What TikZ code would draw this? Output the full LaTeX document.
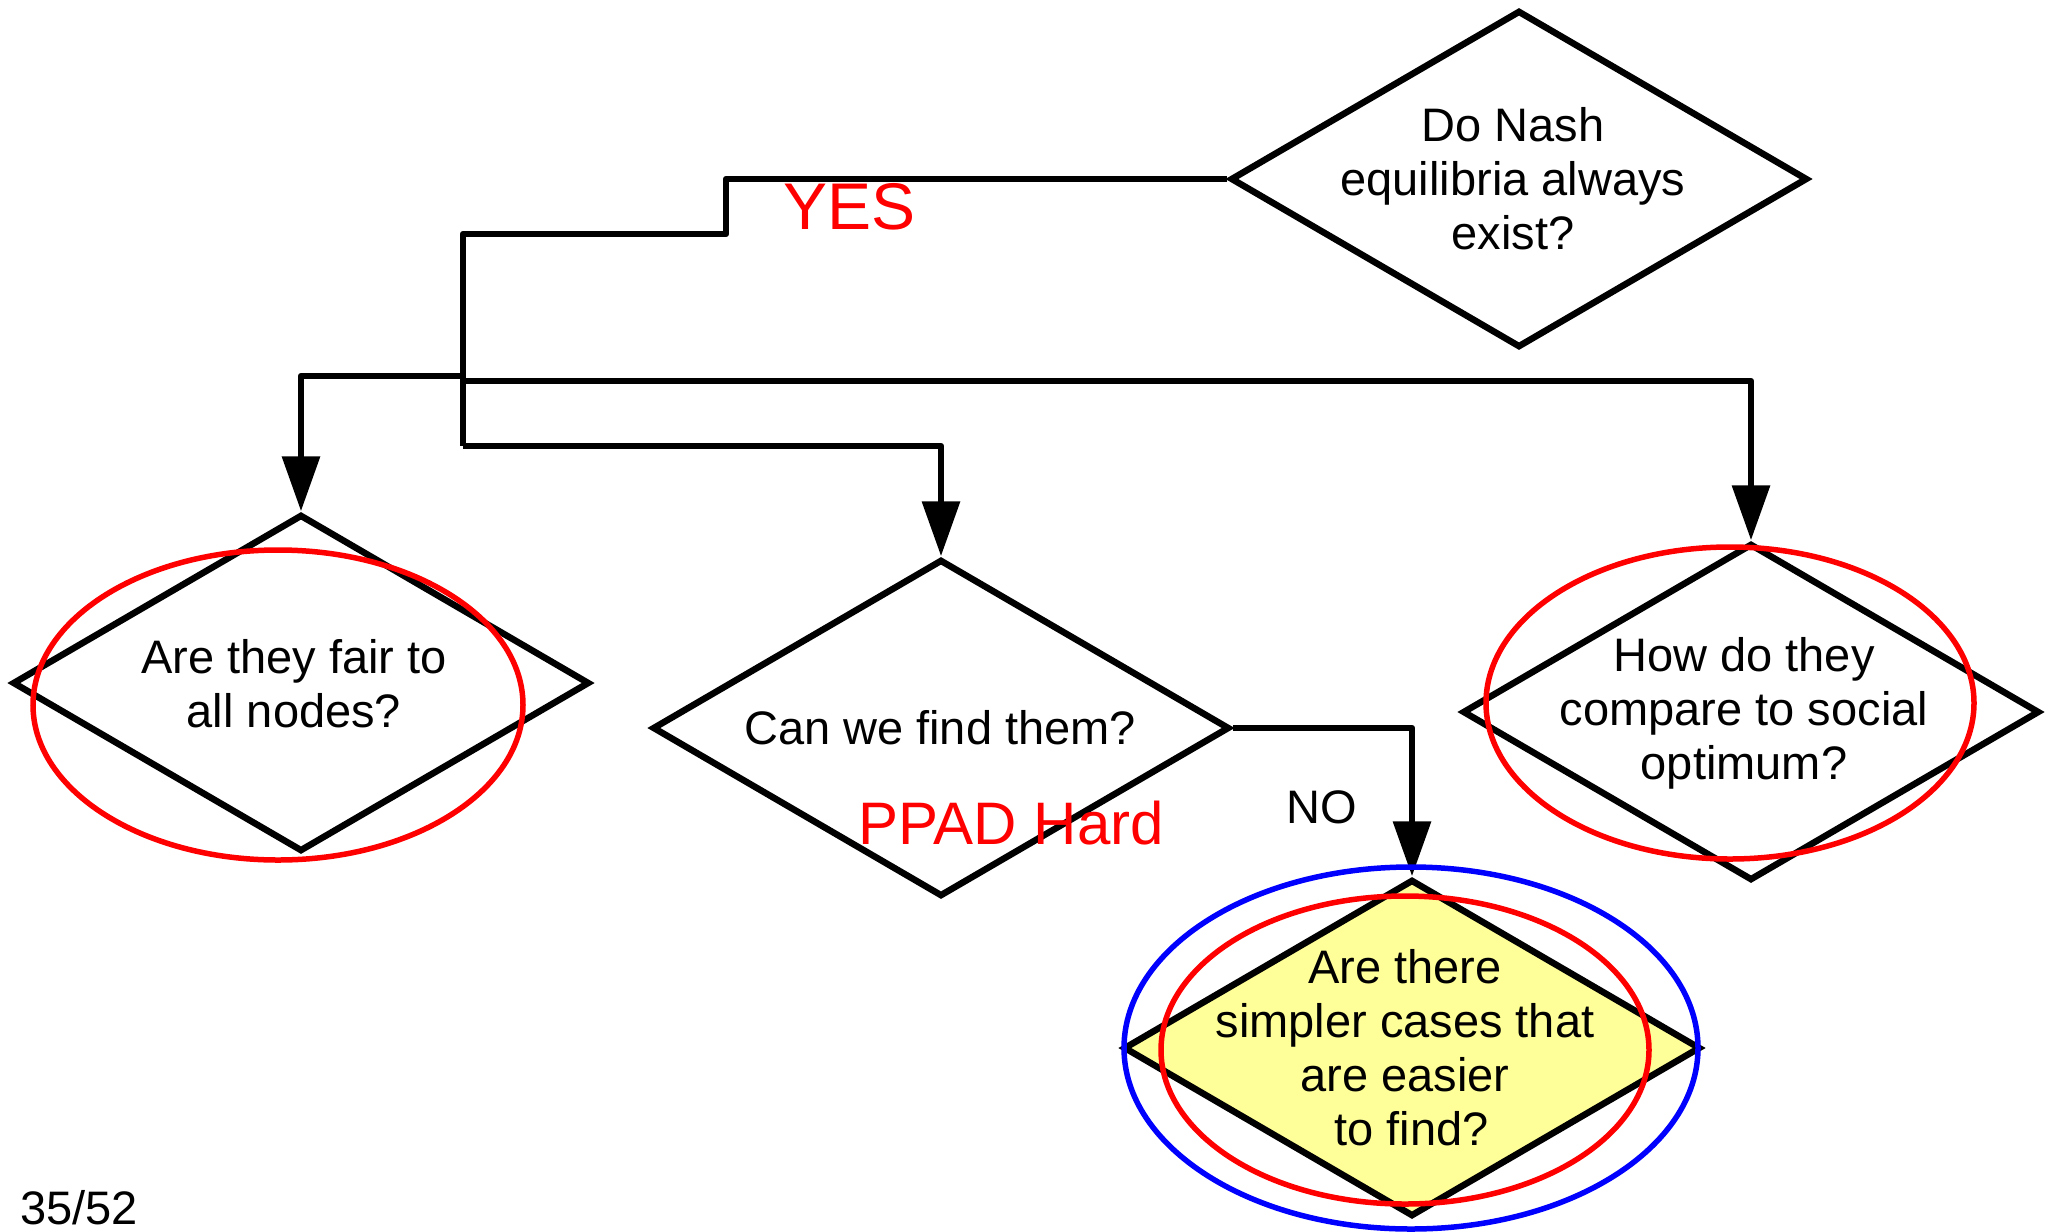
\documentclass[tikz,border=0pt]{standalone}
\usepackage{fontspec}
\setmainfont{Liberation Sans}
\usetikzlibrary{shapes.geometric,arrows.meta}
\definecolor{qyellow}{RGB}{255,255,153}
\tikzset{
  question/.style={draw=black, line width=6.5pt, diamond, inner sep=0pt,
    minimum width=577pt, minimum height=337pt},
  qtext/.style={align=center, font=\fontsize{47}{54}\selectfont, inner sep=0pt},
  link/.style={draw=black, line width=6.5pt, line join=round},
  arrowlink/.style={link, -{Triangle[length=55pt,width=37pt]}},
  answer/.style={text=red, inner sep=0pt},
  ring/.style={line width=5.5pt}
}
\begin{document}
\begin{tikzpicture}[x=1pt,y=-1pt]
\useasboundingbox (0,0) rectangle (2052,1231);

% decision diamonds
\node[question] (nash)   at (1519,179) {};
\node[question] (fair)   at (301,683) {};
\node[question] (find)   at (941,728) {};
\node[question] (social) at (1751,712) {};
\node[question, fill=qyellow] (simple) at (1412,1048) {};

% questions
\node[qtext] (tnash)   at (1513,179) {Do Nash\\equilibria always\\exist?};
\node[qtext] (tfair)   at (294,684)  {Are they fair to\\all nodes?};
\node[qtext] (tfind)   at (940,728)  {Can we find them?};
\node[qtext] (tsocial) at (1744,713) {How do they\\compare to social\\optimum?};
\node[qtext] (tsimple) at (1405,1048) {Are there\\simpler cases that\\are easier\\\ to find?};

% YES trunk
\coordinate (step) at (726,234);
\coordinate (trunk) at (463,234);
\coordinate (trunkend) at (463,446);
\coordinate (jfair) at (463,376);
\coordinate (jsocial) at (463,381);
\draw[link] (nash.west) -| (step) -- (trunk) -- (trunkend);
\draw[arrowlink] (trunkend) -| (find.north);
\draw[arrowlink] (jfair) -| (fair.north);
\draw[arrowlink] (jsocial) -| (social.north);

% NO branch
\draw[arrowlink] (find.east) -| (simple.north);

% answers
\node[answer, font=\fontsize{66}{76}\selectfont, anchor=base west] (yes) at (783,229) {YES};
\node[answer, font=\fontsize{60}{70}\selectfont, anchor=base west] (ppad) at (858,844) {PPAD Hard};
\node[qtext, anchor=base west] (no) at (1286,823) {NO};

% highlight rings
\draw[ring, red]  (278,705) ellipse [x radius=245pt, y radius=155pt];
\draw[ring, red]  (1730,703) ellipse [x radius=244pt, y radius=156pt];
\draw[ring, blue] (1411,1048) ellipse [x radius=287pt, y radius=181pt];
\draw[ring, red]  (1405,1050) ellipse [x radius=244pt, y radius=154pt];

% page number
\node[qtext, anchor=base west] (page) at (20,1224) {35/52};
\end{tikzpicture}
\end{document}
